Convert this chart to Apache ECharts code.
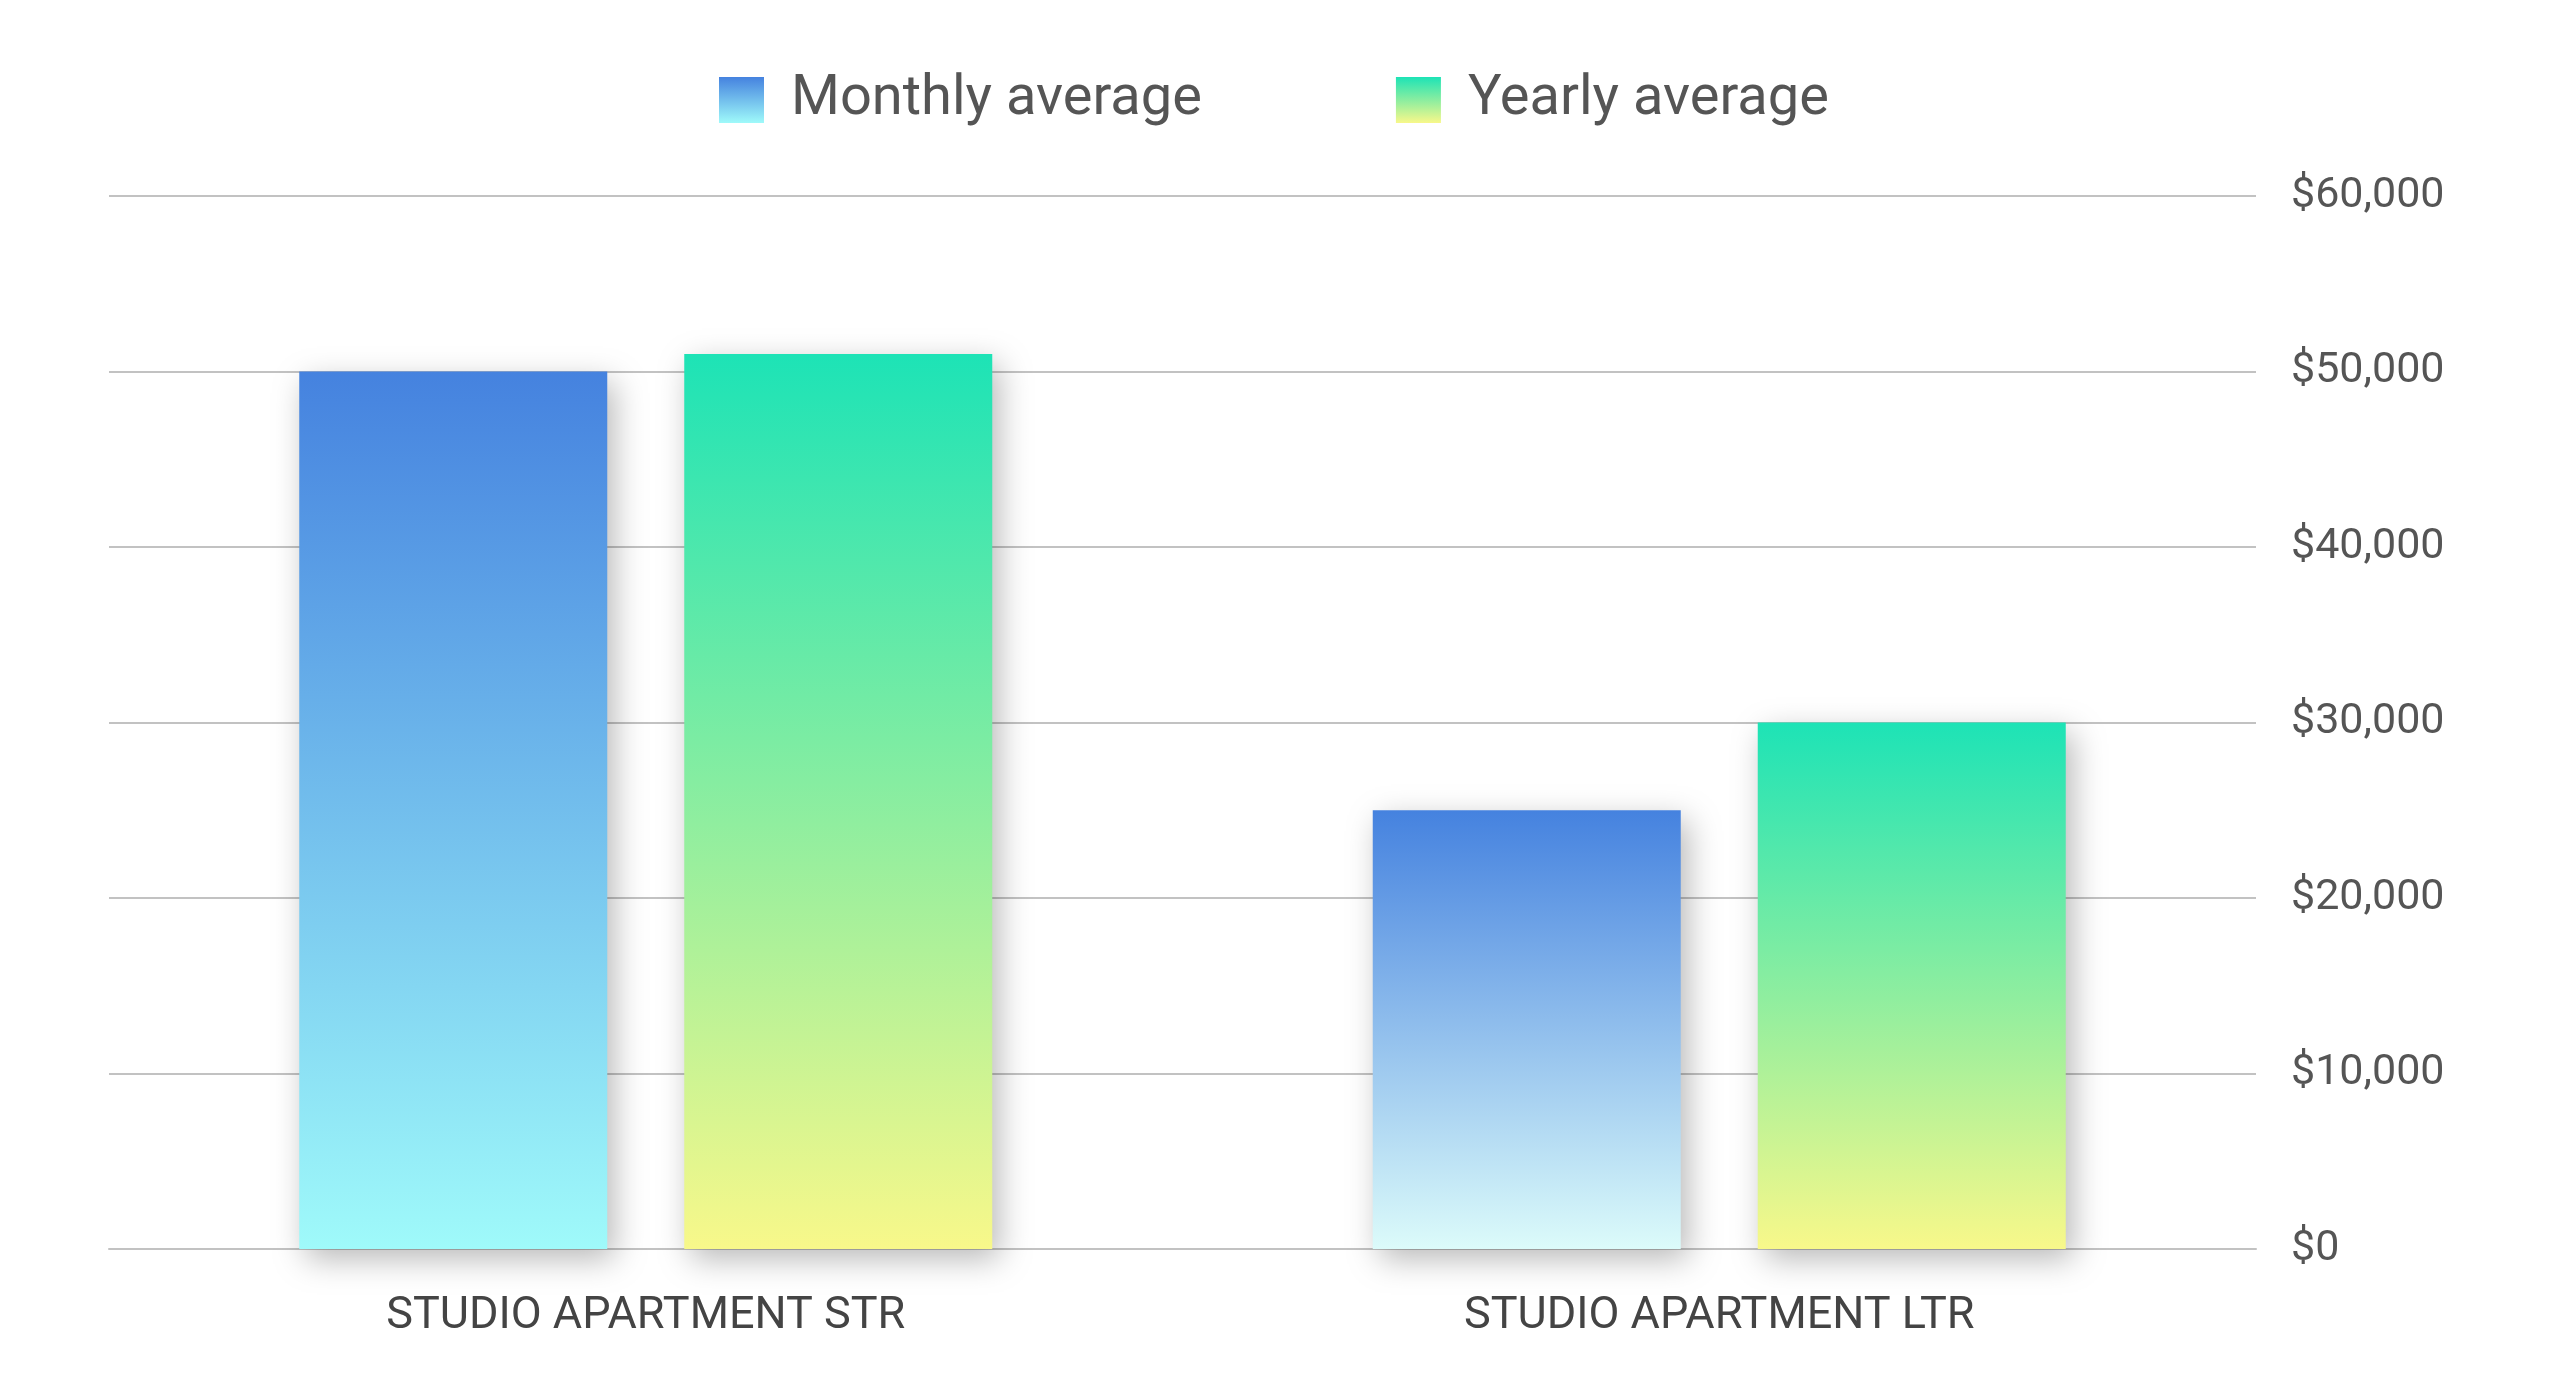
<!DOCTYPE html>
<html>
<head>
<meta charset="utf-8">
<script src="https://cdn.jsdelivr.net/npm/echarts@6/dist/echarts.min.js"></script>
<style>
html,body{margin:0;padding:0;background:#fff;}
#chart{width:2560px;height:1397px;}
</style>
</head>
<body>
<div id="chart"></div>
<script>
const categories = ['STUDIO APARTMENT STR', 'STUDIO APARTMENT LTR'];
const monthlyAverage = [50000, 25000];
const yearlyAverage = [51000, 30000];
const seriesNames = ['Monthly average', 'Yearly average'];

function grad(top, bottom) {
  return new echarts.graphic.LinearGradient(0, 0, 0, 1, [
    { offset: 0, color: top },
    { offset: 1, color: bottom }
  ]);
}

const shadow = {
  shadowColor: 'rgba(0,0,0,0.28)',
  shadowBlur: 30,
  shadowOffsetX: 7,
  shadowOffsetY: 10
};

const monthlyColors = [grad('#4582df', '#9ffafa'), grad('#4582df', '#dcfbfa')];
const yearlyColors = [grad('#1de3b6', '#f8f88a'), grad('#1de3b6', '#f8f88a')];

const chart = echarts.init(document.getElementById('chart'));
chart.setOption({
  backgroundColor: '#ffffff',
  animation: false,
  legend: {
    top: 67,
    left: 714,
    itemWidth: 45,
    itemHeight: 46,
    itemGap: 194,
    icon: 'rect',
    data: seriesNames,
    textStyle: {
      fontFamily: 'Roboto',
      fontSize: 56,
      color: '#555555',
      padding: [0, 0, 0, 22]
    }
  },
  grid: { left: 109, right: 304, top: 196, bottom: 148 },
  xAxis: {
    type: 'category',
    data: categories,
    axisLine: { show: true, lineStyle: { color: '#c2c2c2', width: 2 } },
    axisTick: { show: false },
    axisLabel: {
      margin: 45,
      fontFamily: 'Roboto',
      fontSize: 45,
      color: '#444444'
    }
  },
  yAxis: {
    type: 'value',
    position: 'right',
    min: 0,
    max: 60000,
    interval: 10000,
    axisLine: { show: false },
    axisTick: { show: false },
    splitLine: { lineStyle: { color: '#c2c2c2', width: 2 } },
    axisLabel: {
      margin: 35,
      fontFamily: 'Roboto',
      fontSize: 43,
      color: '#555555',
      verticalAlign: 'middle',
      padding: [12, 0, 0, 0],
      formatter: v => '$' + v.toLocaleString('en-US')
    }
  },
  series: [
    {
      name: seriesNames[0],
      type: 'bar',
      barWidth: 308,
      barGap: '25%',
      itemStyle: Object.assign({ color: monthlyColors[0] }, shadow),
      data: monthlyAverage.map((v, i) => ({ value: v, itemStyle: { color: monthlyColors[i] } }))
    },
    {
      name: seriesNames[1],
      type: 'bar',
      barWidth: 308,
      barGap: '25%',
      itemStyle: Object.assign({ color: yearlyColors[0] }, shadow),
      data: yearlyAverage.map((v, i) => ({ value: v, itemStyle: { color: yearlyColors[i] } }))
    }
  ]
});
</script>
</body>
</html>
